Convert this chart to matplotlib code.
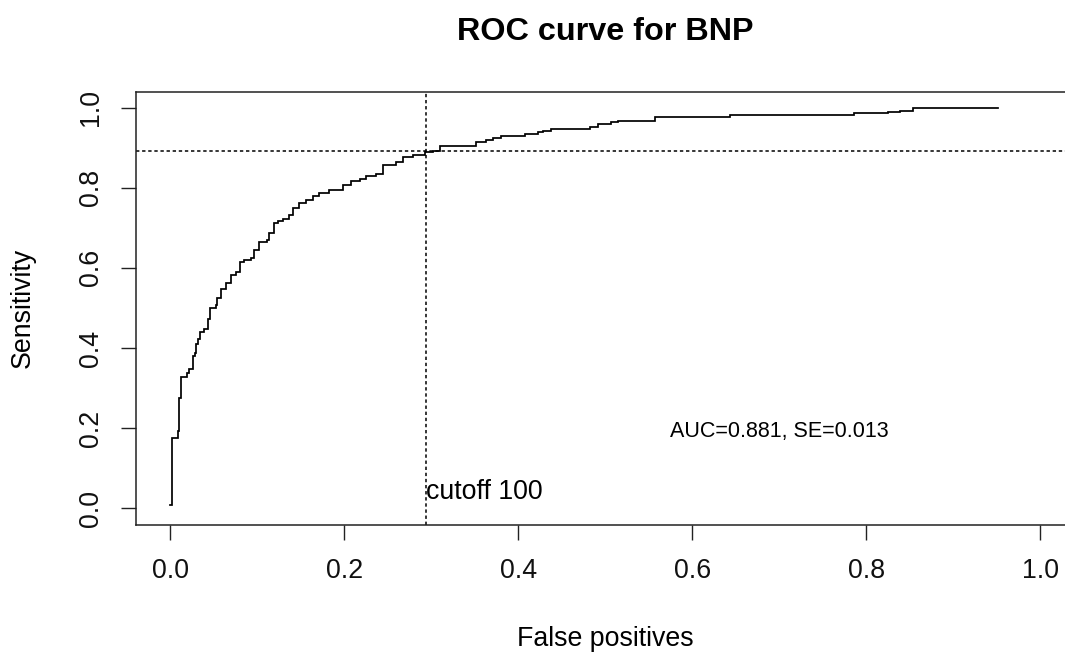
import matplotlib
matplotlib.use("Agg")
import matplotlib.pyplot as plt

# ROC curve vertices (false positive rate, sensitivity)
fpr = [0.0, 0.0015, 0.0084, 0.0104, 0.0123, 0.0188, 0.0219, 0.0257, 0.0284, 0.0296,
       0.0322, 0.0345, 0.0391, 0.0437, 0.0460, 0.0526, 0.0541, 0.0587, 0.0641, 0.0699,
       0.0756, 0.0806, 0.0852, 0.0929, 0.0967, 0.1024, 0.1113, 0.1139, 0.1197, 0.1235,
       0.1292, 0.1369, 0.1407, 0.1484, 0.1562, 0.1638, 0.1715, 0.1830, 0.1983, 0.2079,
       0.2175, 0.2252, 0.2367, 0.2443, 0.2597, 0.2673, 0.2788, 0.2923, 0.3018, 0.3096,
       0.3518, 0.3633, 0.3709, 0.3805, 0.4074, 0.4227, 0.4284, 0.4381, 0.4822, 0.4917,
       0.5071, 0.5147, 0.5570, 0.6433, 0.7854, 0.8254, 0.8389, 0.8542, 0.9520]
tpr = [0.0075, 0.175, 0.1925, 0.275, 0.3283, 0.3375, 0.3475, 0.38, 0.3875, 0.41,
       0.4225, 0.4408, 0.4475, 0.4725, 0.5, 0.5075, 0.5258, 0.5475, 0.5633, 0.5825,
       0.5908, 0.615, 0.62, 0.625, 0.645, 0.6658, 0.67, 0.6868, 0.7118, 0.7158,
       0.7225, 0.7325, 0.7493, 0.7618, 0.77, 0.7783, 0.7868, 0.795, 0.8075, 0.8158,
       0.8218, 0.83, 0.8343, 0.8575, 0.8633, 0.8758, 0.8825, 0.8883, 0.8925, 0.9033,
       0.9133, 0.9188, 0.9243, 0.93, 0.935, 0.9393, 0.9418, 0.9468, 0.9508, 0.96,
       0.9633, 0.9675, 0.9763, 0.9808, 0.9858, 0.9893, 0.9925, 1.0, 1.0]

cutoff_fpr = 0.2934
cutoff_sens = 0.891
x_ticks = [0.0, 0.2, 0.4, 0.6, 0.8, 1.0]
y_ticks = [0.0, 0.2, 0.4, 0.6, 0.8, 1.0]
x_tick_labels = ["0.0", "0.2", "0.4", "0.6", "0.8", "1.0"]
y_tick_labels = ["0.0", "0.2", "0.4", "0.6", "0.8", "1.0"]
title = "ROC curve for BNP"
xlabel = "False positives"
ylabel = "Sensitivity"
auc_text = "AUC=0.881, SE=0.013"
cutoff_text = "cutoff 100"

plt.rcParams['font.family'] = ['Liberation Sans', 'DejaVu Sans']

W, H = 1065, 656
fig = plt.figure(figsize=(W / 100, H / 100), dpi=100)
ax_l, ax_r, ax_t, ax_b = 135.5, 1075.0, 91.5, 524.5
ax = fig.add_axes([ax_l / W, 1 - ax_b / H, (ax_r - ax_l) / W, (ax_b - ax_t) / H])
ax.set_xlim(-0.04, 1.04)
ax.set_ylim(-0.04, 1.04)

ax.plot(fpr, tpr, drawstyle='steps-post', color='black', lw=1.25, solid_joinstyle='miter')
ax.axvline(cutoff_fpr, color='black', lw=1.1, linestyle=(0, (2.2, 1.8)))
ax.axhline(cutoff_sens, color='black', lw=1.1, linestyle=(0, (2.2, 1.8)))

ax.text(0.7, 0.177, auc_text, ha='center', va='baseline', fontsize=15.5)
ax.text(cutoff_fpr, 0.0225, cutoff_text, ha='left', va='baseline', fontsize=19.3)

ax.set_xticks(x_ticks)
ax.set_xticklabels(x_tick_labels)
ax.set_yticks(y_ticks)
ax.set_yticklabels(y_tick_labels, rotation=90, va='center')
ax.tick_params(axis='both', direction='out', length=10.8, width=1.0, colors='#222222',
               labelsize=19.3, labelcolor='#111111')
ax.tick_params(axis='x', pad=13.5)
ax.tick_params(axis='y', pad=12)
for s in ax.spines.values():
    s.set_linewidth(1.1)
    s.set_color('#222222')
ax.spines['right'].set_visible(False)

cx = (ax_l + ax_r) / 2 / W
fig.text(cx, 1 - 40 / H, title, ha='center', va='baseline', fontsize=23.3, fontweight='bold')
fig.text(cx, 1 - 646 / H, xlabel, ha='center', va='baseline', fontsize=19.3)
fig.text(23 / W, 1 - 308 / H, ylabel, ha='center', va='center', rotation=90, fontsize=19.3)

fig.savefig("out.png", dpi=100)
